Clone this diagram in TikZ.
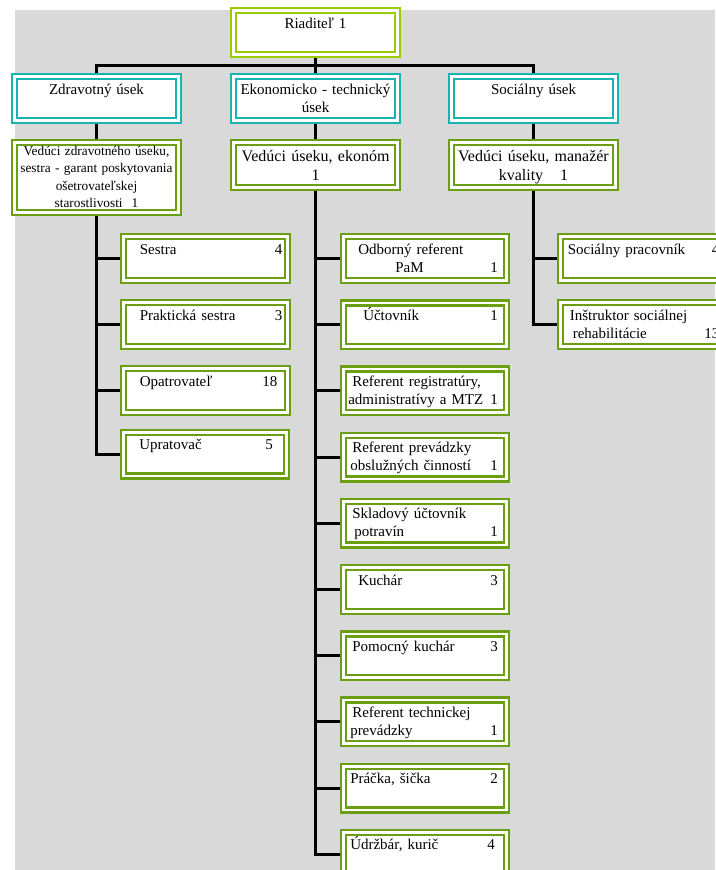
\documentclass[tikz,border=0pt]{standalone}
\usepackage{fontspec}
\setmainfont{Liberation Serif}
\usepackage{tikz}
\definecolor{orglime}{RGB}{153,204,0}
\definecolor{orgteal}{RGB}{24,180,180}
\definecolor{orggreen}{RGB}{108,158,18}
\definecolor{bggray}{RGB}{217,217,217}

\begin{document}
\begin{tikzpicture}[x=1pt,y=-1pt,
		post/.style={draw=#1,double=white,line width=2.4pt,double distance=2.6pt,fill=white,
			outer sep=3.7pt,inner xsep=5pt,inner ysep=3pt,text width=153.5pt,
			text height=14.3pt,text depth=23.3pt,font=\fontsize{15}{18}\selectfont},
		post/.default=orggreen,
		chief/.style={post=orglime,align=center},
		sect/.style={post=orgteal,align=center},
		boss/.style={post,align=center,font=\fontsize{16}{18.5}\selectfont,text height=16pt,text depth=22.6pt},
		job/.style={post,align=left},
		conn/.style={line width=3pt}]
		\useasboundingbox (0,0) rectangle (715,870);
		\fill[bggray] (15,10) rectangle (715,870);
		\node[chief] (riad) at (315.5,32.5) {Riaditeľ 1};
		\node[sect] (zdr) at (96.5,98.5) {Zdravotný úsek};
		\node[sect] (eko) at (315.5,98.5) {Ekonomicko - technický\\úsek};
		\node[sect] (soc) at (533.5,98.5) {Sociálny úsek};
		\node[boss,font=\fontsize{13.3}{17.5}\selectfont,text height=9.3pt,text depth=54.3pt] (vz) at (96.5,177.5)
			{Vedúci zdravotného úseku,\\sestra - garant poskytovania\\ošetrovateľskej\\starostlivosti\hspace{9pt}1};
		\node[boss] (ve) at (315.5,165) {Vedúci úseku, ekonóm\\1};
		\node[boss] (vs) at (533.5,165) {Vedúci úseku, manažér\\kvality\hspace{17pt}1};
		\node[job] (z1) at (205.5,258.5) {\hspace*{11pt}Sestra\hfill 4};
		\node[job] (z2) at (205.5,324.5) {\hspace*{11pt}Praktická sestra\hfill 3};
		\node[job] (z3) at (205.5,390.5) {\hspace*{11pt}Opatrovateľ\hfill 18\kern5pt};
		\node[job] (z4) at (205,454) {\hspace*{11pt}Upratovač\hfill 5\kern9pt};
		\node[job] (e1) at (425,258.5) {\hspace*{10pt}Odborný referent\\\hspace*{47pt}PaM\hfill 1\kern4pt};
		\node[job] (e2) at (425,324.7) {\hspace*{15pt}Účtovník\hfill 1\kern4pt};
		\node[job] (e3) at (425,390.9) {\hspace*{4pt}Referent registratúry,\\administratívy a MTZ\hfill 1\kern4pt};
		\node[job] (e4) at (425,457.1) {\hspace*{4pt}Referent prevádzky\\\hspace*{2pt}obslužných činností\hfill 1\kern4pt};
		\node[job] (e5) at (425,523.3) {\hspace*{4pt}Skladový účtovník\\\hspace*{6pt}potravín\hfill 1\kern4pt};
		\node[job] (e6) at (425,589.5) {\hspace*{10pt}Kuchár\hfill 3\kern4pt};
		\node[job] (e7) at (425,655.7) {\hspace*{4pt}Pomocný kuchár\hfill 3\kern4pt};
		\node[job] (e8) at (425,721.9) {\hspace*{4pt}Referent technickej\\\hspace*{2pt}prevádzky\hfill 1\kern4pt};
		\node[job] (e9) at (425,788.1) {\hspace*{2pt}Práčka, šička\hfill 2\kern4pt};
		\node[job] (e10) at (425,854.3) {\hspace*{2pt}Údržbár, kurič\hfill 4\kern7pt};
		\node[job] (s1) at (642.5,258.5) {\hspace*{2pt}Sociálny pracovník\hfill 4};
		\node[job] (s2) at (642.5,324.5) {\hspace*{4pt}Inštruktor sociálnej\\\hspace*{7pt}rehabilitácie\hfill 13};
		\draw[conn] (riad) -- (eko);
		\draw[conn] (zdr.north) |- ([yshift=8pt]eko.north) -| (soc.north);
		\draw[conn] (zdr) -- (vz);
		\draw[conn] (eko) -- (ve);
		\draw[conn] (soc) -- (vs);
		\draw[conn] (vz.south) |- (z1.west);
		\draw[conn] (vz.south) |- (z2.west);
		\draw[conn] (vz.south) |- (z3.west);
		\draw[conn] (vz.south) |- (z4.west);
		\draw[conn] (ve.south) |- (e1.west);
		\draw[conn] (ve.south) |- (e2.west);
		\draw[conn] (ve.south) |- (e3.west);
		\draw[conn] (ve.south) |- (e4.west);
		\draw[conn] (ve.south) |- (e5.west);
		\draw[conn] (ve.south) |- (e6.west);
		\draw[conn] (ve.south) |- (e7.west);
		\draw[conn] (ve.south) |- (e8.west);
		\draw[conn] (ve.south) |- (e9.west);
		\draw[conn] (ve.south) |- (e10.west);
		\draw[conn] (vs.south) |- (s1.west);
		\draw[conn] (vs.south) |- (s2.west);
\end{tikzpicture}
\end{document}
